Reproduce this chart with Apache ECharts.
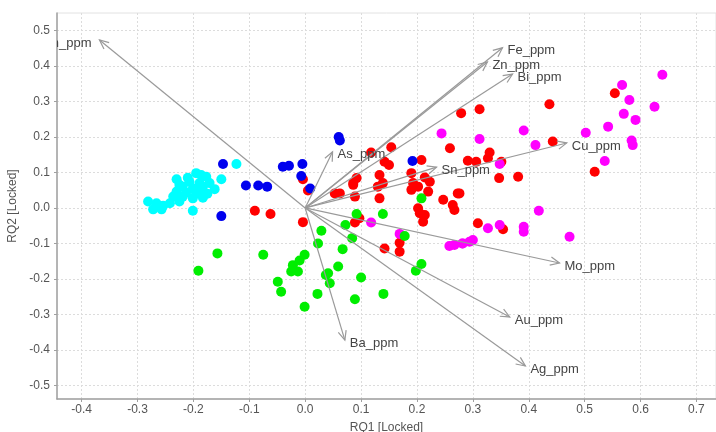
<!DOCTYPE html>
<html>
<head>
<meta charset="utf-8">
<script src="https://cdn.jsdelivr.net/npm/echarts@6/dist/echarts.min.js"></script>
<style>
  html, body { margin: 0; padding: 0; background: #fff; }
  #chart { width: 716px; height: 432px; }
</style>
</head>
<body>
<div id="chart"></div>
<script>
// ---- data ----
const xTicks = [-0.4, -0.3, -0.2, -0.1, 0.0, 0.1, 0.2, 0.3, 0.4, 0.5, 0.6, 0.7];
const yTicks = [-0.5, -0.4, -0.3, -0.2, -0.1, 0.0, 0.1, 0.2, 0.3, 0.4, 0.5];

const cyanPts = [
  [-0.123, 0.124], [-0.230, 0.081], [-0.195, 0.098], [-0.186, 0.093], [-0.177, 0.088],
  [-0.150, 0.081], [-0.207, 0.074], [-0.189, 0.070], [-0.171, 0.070], [-0.219, 0.060],
  [-0.201, 0.055], [-0.183, 0.060], [-0.162, 0.053], [-0.230, 0.046], [-0.213, 0.043],
  [-0.195, 0.041], [-0.236, 0.032], [-0.219, 0.032], [-0.201, 0.027], [-0.183, 0.029],
  [-0.242, 0.013], [-0.281, 0.018], [-0.266, 0.013], [-0.272, -0.004], [-0.257, -0.004],
  [-0.254, 0.006], [-0.225, 0.018], [-0.201, -0.008], [-0.210, 0.085], [-0.190, 0.050],
  [-0.175, 0.040], [-0.225, 0.065]
];
const bluePts = [
  [-0.147, 0.124], [-0.150, -0.023], [-0.106, 0.063], [-0.084, 0.063], [-0.068, 0.060],
  [-0.040, 0.116], [-0.029, 0.119], [-0.005, 0.124], [-0.007, 0.090], [0.009, 0.055],
  [0.060, 0.200], [0.062, 0.190], [0.192, 0.132]
];
const redPts = [
  [-0.090, -0.008], [-0.062, -0.017], [-0.004, -0.040], [0.053, 0.041], [0.086, 0.070],
  [0.089, 0.032], [0.005, 0.049], [-0.004, 0.081], [0.279, 0.267], [0.259, 0.168],
  [0.291, 0.133], [0.154, 0.171], [0.118, 0.156], [0.142, 0.130], [0.150, 0.121],
  [0.208, 0.135], [0.092, 0.084], [0.086, 0.065], [0.133, 0.093], [0.139, 0.070],
  [0.130, 0.060], [0.190, 0.098], [0.214, 0.086], [0.223, 0.074], [0.193, 0.070],
  [0.202, 0.060], [0.190, 0.051], [0.220, 0.046], [0.133, 0.027], [0.247, 0.023],
  [0.273, 0.041], [0.264, 0.008], [0.267, -0.006], [0.202, -0.001], [0.214, -0.020],
  [0.211, -0.039], [0.062, 0.041], [0.089, -0.041], [0.097, -0.029], [0.205, -0.015],
  [0.142, -0.114], [0.169, -0.098], [0.169, -0.123], [0.554, 0.323], [0.437, 0.292],
  [0.312, 0.278], [0.443, 0.187], [0.330, 0.156], [0.327, 0.140], [0.306, 0.130],
  [0.351, 0.130], [0.347, 0.084], [0.381, 0.088], [0.518, 0.102], [0.276, 0.041],
  [0.309, -0.043], [0.354, -0.060]
];
const greenPts = [
  [0.092, -0.017], [0.139, -0.017], [0.072, -0.048], [0.029, -0.064], [0.023, -0.100],
  [0.084, -0.085], [0.067, -0.116], [0.178, -0.079], [-0.075, -0.132], [-0.001, -0.132],
  [-0.010, -0.148], [-0.022, -0.161], [-0.025, -0.179], [-0.013, -0.179], [0.059, -0.165],
  [0.037, -0.189], [0.041, -0.184], [0.044, -0.212], [0.100, -0.196], [0.208, -0.158],
  [0.198, -0.177], [-0.049, -0.208], [-0.043, -0.236], [0.022, -0.242], [0.089, -0.257],
  [0.140, -0.242], [-0.001, -0.278], [0.208, 0.027], [-0.191, -0.177], [-0.157, -0.128]
];
const magentaPts = [
  [0.639, 0.375], [0.567, 0.346], [0.580, 0.304], [0.625, 0.285], [0.570, 0.265],
  [0.591, 0.248], [0.542, 0.229], [0.502, 0.212], [0.584, 0.190], [0.586, 0.177],
  [0.536, 0.132], [0.391, 0.218], [0.312, 0.194], [0.412, 0.177], [0.348, 0.124],
  [0.418, -0.008], [0.327, -0.057], [0.348, -0.048], [0.391, -0.053], [0.391, -0.067],
  [0.473, -0.081], [0.300, -0.090], [0.282, -0.100], [0.244, 0.210], [0.118, -0.041],
  [0.169, -0.073], [0.258, -0.107], [0.267, -0.104], [0.281, -0.100], [0.294, -0.095]
];

// loading vectors
const arrowNames = ['Mn_ppm', 'Fe_ppm', 'Zn_ppm', 'Bi_ppm', 'Cu_ppm', 'Sn_ppm', 'As_ppm', 'Mo_ppm', 'Au_ppm', 'Ag_ppm', 'Ba_ppm'];
const arrowX = [-0.368, 0.353, 0.326, 0.371, 0.468, 0.235, 0.049, 0.455, 0.366, 0.394, 0.071];
const arrowY = [0.473, 0.451, 0.411, 0.377, 0.183, 0.115, 0.158, -0.155, -0.307, -0.445, -0.372];

// ---- chart ----
const chart = echarts.init(document.getElementById('chart'));

const fontFam = '"Liberation Sans", Arial, sans-serif';
const gridLine = { show: true, lineStyle: { color: '#dcdcdc', type: [2, 2], width: 1 } };

function dots(name, pts, color) {
  return {
    name: name,
    type: 'scatter',
    data: pts,
    symbolSize: 10,
    itemStyle: { color: color, opacity: 1 },
    z: 2
  };
}

function renderArrow(params, api) {
  const o = api.coord([0, 0]);
  const t = api.coord([api.value(0), api.value(1)]);
  const ang = Math.atan2(t[1] - o[1], t[0] - o[0]);
  const len = 10, spread = 0.42;
  const h1 = [t[0] - len * Math.cos(ang - spread), t[1] - len * Math.sin(ang - spread)];
  const h2 = [t[0] - len * Math.cos(ang + spread), t[1] - len * Math.sin(ang + spread)];
  const left = api.value(0) < 0;
  const stroke = { stroke: '#9a9a9a', lineWidth: 1.2, fill: null };
  return {
    type: 'group',
    children: [
      { type: 'line', shape: { x1: o[0], y1: o[1], x2: t[0], y2: t[1] }, style: stroke },
      { type: 'polyline', shape: { points: [h1, t, h2] }, style: stroke },
      {
        type: 'text',
        x: left ? t[0] - 8 : t[0] + 5,
        y: t[1] + 3,
        style: {
          text: arrowNames[params.dataIndex],
          font: '13px ' + fontFam,
          fill: '#444',
          align: left ? 'right' : 'left',
          verticalAlign: 'middle'
        }
      }
    ]
  };
}

chart.setOption({
  animation: false,
  backgroundColor: '#fff',
  grid: {
    left: 57, right: 0, top: 13, bottom: 33,
    outerBoundsMode: 'none',
    containLabel: false,
    show: true, borderColor: '#e2e2e2', borderWidth: 1
  },
  xAxis: {
    type: 'value',
    min: -0.444,
    max: 0.735,
    name: 'RQ1 [Locked]',
    nameLocation: 'middle',
    nameGap: 23,
    nameTextStyle: { color: '#555', fontSize: 12, fontFamily: fontFam },
    axisLine: { show: true, onZero: false, lineStyle: { color: '#a0a0a0', width: 1.5 } },
    axisTick: { show: true, length: 3, customValues: xTicks, lineStyle: { color: '#a0a0a0' } },
    axisLabel: {
      customValues: xTicks, color: '#555', fontSize: 12,
      fontFamily: fontFam, margin: 5,
      formatter: v => v.toFixed(1)
    },
    splitLine: gridLine
  },
  yAxis: {
    type: 'value',
    min: -0.538,
    max: 0.549,
    name: 'RQ2 [Locked]',
    nameLocation: 'middle',
    nameGap: 37,
    nameTextStyle: { color: '#555', fontSize: 12, fontFamily: fontFam },
    axisLine: { show: true, onZero: false, lineStyle: { color: '#a0a0a0', width: 1.5 } },
    axisTick: { show: true, length: 3, customValues: yTicks, lineStyle: { color: '#a0a0a0' } },
    axisLabel: {
      customValues: yTicks, color: '#555', fontSize: 12,
      fontFamily: fontFam, margin: 7,
      formatter: v => v.toFixed(1)
    },
    splitLine: gridLine
  },
  series: [
    dots('red', redPts, '#ff0000'),
    dots('magenta', magentaPts, '#ff00ff'),
    dots('green', greenPts, '#00ee00'),
    dots('cyan', cyanPts, '#00ffff'),
    dots('blue', bluePts, '#0000ee'),
    {
      name: 'loadings',
      type: 'custom',
      clip: true,
      z: 5,
      silent: true,
      renderItem: renderArrow,
      data: arrowX.map((x, i) => [x, arrowY[i]])
    }
  ]
});
</script>
</body>
</html>
